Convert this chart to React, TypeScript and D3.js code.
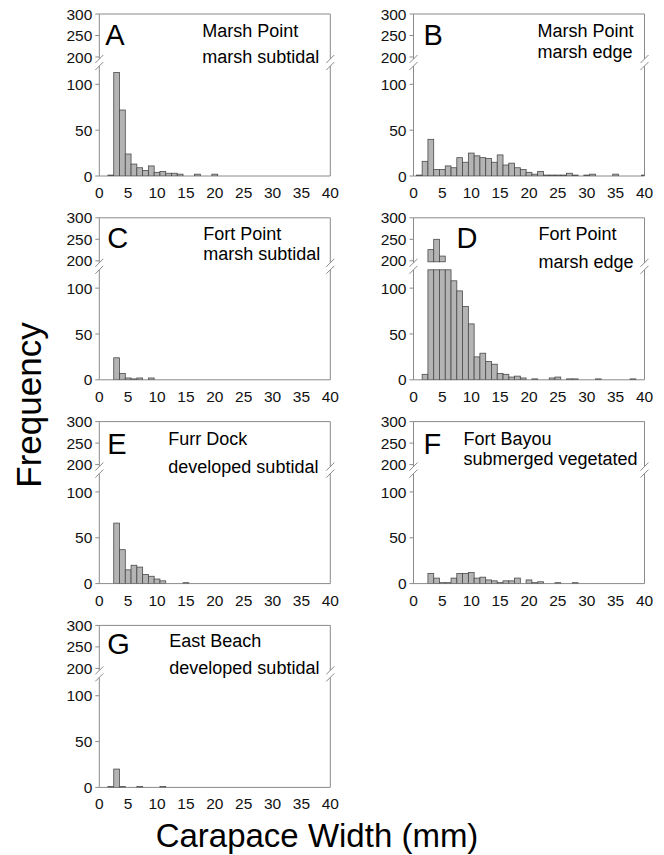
import React from "react";
import * as d3 from "d3";

// carapace width bins (mm), bars centred on each value
const widthBins = d3.range(1, 41);

// crab counts per 1 mm bin, index 0 = 1 mm ... index 39 = 40 mm
const countsA = [0, 1, 113, 72, 24, 13, 9, 6, 11, 4, 5, 3, 3, 2, 0, 0, 2, 0, 0, 2, 0, 0, 0, 0, 0, 0, 0, 0, 0, 0, 0, 0, 0, 0, 0, 0, 0, 0, 0, 0];
const countsB = [1, 16, 40, 7, 7, 11, 9, 20, 15, 25, 22, 20, 19, 15, 23, 12, 14, 9, 7, 4, 2, 5, 1, 1, 1, 1, 3, 1, 0, 1, 2, 0, 0, 0, 2, 0, 0, 0, 0, 1];
const countsC = [0, 0, 24, 7, 2, 1, 2, 0, 2, 0, 0, 0, 0, 0, 0, 0, 0, 0, 0, 0, 0, 0, 0, 0, 0, 0, 0, 0, 0, 0, 0, 0, 0, 0, 0, 0, 0, 0, 0, 0];
const countsD = [0, 6, 226, 250, 211, 150, 108, 97, 80, 61, 25, 29, 20, 17, 7, 6, 3, 4, 2, 0, 1, 0, 0, 2, 3, 0, 1, 1, 0, 0, 0, 1, 0, 0, 0, 0, 0, 1, 0, 0];
const countsE = [0, 0, 66, 37, 15, 20, 18, 10, 8, 5, 3, 0, 0, 0, 1, 0, 0, 0, 0, 0, 0, 0, 0, 0, 0, 0, 0, 0, 0, 0, 0, 0, 0, 0, 0, 0, 0, 0, 0, 0];
const countsF = [0, 0, 11, 6, 1, 1, 6, 11, 11, 12, 6, 7, 4, 3, 1, 3, 3, 6, 0, 4, 1, 2, 0, 0, 1, 0, 0, 1, 0, 0, 0, 0, 0, 0, 0, 0, 0, 0, 0, 0];
const countsG = [0, 1, 20, 1, 0, 0, 1, 0, 0, 0, 1, 0, 0, 0, 0, 0, 0, 0, 0, 0, 0, 0, 0, 0, 0, 0, 0, 0, 0, 0, 0, 0, 0, 0, 0, 0, 0, 0, 0, 0];

const panelLetters = ["A", "B", "C", "D", "E", "F", "G"];
const siteNames = ["Marsh Point", "Marsh Point", "Fort Point", "Fort Point", "Furr Dock", "Fort Bayou", "East Beach"];
const habitats = ["marsh subtidal", "marsh edge", "marsh subtidal", "marsh edge", "developed subtidal", "submerged vegetated", "developed subtidal"];
const allCounts = [countsA, countsB, countsC, countsD, countsE, countsF, countsG];

const xTicks = [0, 5, 10, 15, 20, 25, 30, 35, 40];
const lowerTicks = [0, 50, 100];
const upperTicks = [200, 250, 300];

const FONT = "'Liberation Sans', Arial, sans-serif";
const GRID = "#8a8a8a";

// label placement per panel, offsets from plot top-left
const layout = [
  { lx: 6, ly: 31, tx: 103, t1: 23, t2: 49 },
  { lx: 10, ly: 31, tx: 124, t1: 23, t2: 44 },
  { lx: 8, ly: 30, tx: 104, t1: 22, t2: 42 },
  { lx: 43, ly: 30, tx: 125, t1: 22, t2: 50 },
  { lx: 8, ly: 32, tx: 69, t1: 23, t2: 51 },
  { lx: 10, ly: 32, tx: 50, t1: 23, t2: 43 },
  { lx: 8, ly: 29, tx: 70, t1: 22, t2: 49 },
];

const Panel = ({ i }: { i: number }) => {
  const col = i % 2;
  const row = Math.floor(i / 2);
  const left = col === 0 ? 99.3 : 413.5;
  const top = 14 + row * 203.8;
  const w = 231;
  const h = 162;
  const bottom = top + h;
  const counts = allCounts[i];
  const L = layout[i];

  const x = d3.scaleLinear().domain([0, 40]).range([left, left + w]);
  const yLow = d3.scaleLinear().domain([0, 120]).range([bottom, bottom - 110]);
  const yUp = d3.scaleLinear().domain([200, 300]).range([top + 43, top]);
  const breakTop = top + 45;
  const breakBot = bottom - 110;
  const clipId = `clip-${i}`;
  const bw = x(1) - x(0);

  const data = widthBins.map((b, k) => ({ b, v: counts[k] })).filter(d => d.v > 0);

  const slash = (cx: number, cy: number, key: string) => (
    <line key={key} x1={cx - 4} y1={cy + 4} x2={cx + 4} y2={cy - 4} stroke={GRID} strokeWidth={1} />
  );

  return (
    <g>
      <defs>
        <clipPath id={clipId}>
          <rect x={left} y={top} width={w} height={h} />
        </clipPath>
      </defs>
      {/* frame, broken at the axis break */}
      <line x1={left} y1={top} x2={left + w} y2={top} stroke={GRID} />
      <line x1={left} y1={bottom} x2={left + w} y2={bottom} stroke={GRID} />
      <line x1={left} y1={top} x2={left} y2={breakTop} stroke={GRID} />
      <line x1={left} y1={breakBot} x2={left} y2={bottom} stroke={GRID} />
      <line x1={left + w} y1={top} x2={left + w} y2={breakTop} stroke={GRID} />
      <line x1={left + w} y1={breakBot} x2={left + w} y2={bottom} stroke={GRID} />
      {slash(left, breakTop, "s1")}
      {slash(left, breakBot, "s2")}
      {slash(left + w, breakTop, "s3")}
      {slash(left + w, breakBot, "s4")}

      <g clipPath={`url(#${clipId})`}>
        {data.map(d => (
          <rect
            key={`lo-${d.b}`}
            x={x(d.b - 0.5)}
            width={bw}
            y={yLow(Math.min(d.v, 120))}
            height={bottom - yLow(Math.min(d.v, 120))}
            fill="#b4b4b4"
            stroke="#4a4a4a"
            strokeWidth={0.8}
          />
        ))}
        {data.filter(d => d.v > 200).map(d => (
          <rect
            key={`up-${d.b}`}
            x={x(d.b - 0.5)}
            width={bw}
            y={yUp(d.v)}
            height={yUp(200) + 1 - yUp(d.v)}
            fill="#b4b4b4"
            stroke="#4a4a4a"
            strokeWidth={0.8}
          />
        ))}
      </g>

      {/* y ticks */}
      {lowerTicks.map(t => (
        <g key={`yl-${t}`}>
          <line x1={left - 4} x2={left} y1={yLow(t)} y2={yLow(t)} stroke={GRID} />
          <text x={left - 7} y={yLow(t)} dy="0.36em" textAnchor="end" fontSize={15.5} fontFamily={FONT} fill="#111">{t}</text>
        </g>
      ))}
      {upperTicks.map(t => (
        <g key={`yu-${t}`}>
          <line x1={left - 4} x2={left} y1={yUp(t)} y2={yUp(t)} stroke={GRID} />
          <text x={left - 7} y={yUp(t)} dy="0.36em" textAnchor="end" fontSize={15.5} fontFamily={FONT} fill="#111">{t}</text>
        </g>
      ))}
      {/* x ticks */}
      {xTicks.map(t => (
        <text key={`x-${t}`} x={x(t)} y={bottom + 22} textAnchor="middle" fontSize={15.5} fontFamily={FONT} fill="#111">{t}</text>
      ))}

      <text x={left + L.lx} y={top + L.ly} fontSize={29} fontFamily={FONT} fill="#000">{panelLetters[i]}</text>
      <text x={left + L.tx} y={top + L.t1} fontSize={18} fontFamily={FONT} fill="#000">{siteNames[i]}</text>
      <text x={left + L.tx} y={top + L.t2} fontSize={18} fontFamily={FONT} fill="#000">{habitats[i]}</text>
    </g>
  );
};

export default function App() {
  return (
    <svg width={664} height={855} style={{ position: "absolute", left: 0, top: 0, background: "#fff" }}>
      <rect width={664} height={855} fill="#fff" />
      {panelLetters.map((_, i) => <Panel key={i} i={i} />)}
      <text transform="translate(41,405) rotate(-90)" textAnchor="middle" fontSize={35} fontFamily={FONT} fill="#000">Frequency</text>
      <text x={317} y={847} textAnchor="middle" fontSize={33} fontFamily={FONT} fill="#000">Carapace Width (mm)</text>
    </svg>
  );
}
